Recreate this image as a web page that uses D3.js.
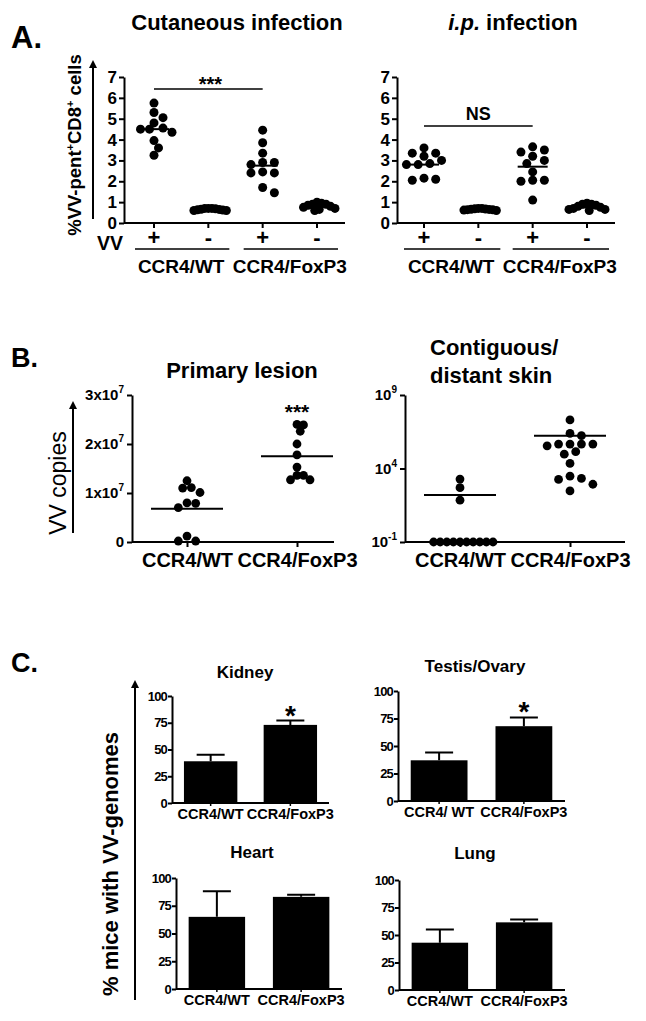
<!DOCTYPE html>
<html>
<head>
<meta charset="utf-8">
<script src="https://cdn.jsdelivr.net/npm/d3@7"></script>
<style>
  body { margin: 0; background: #fff; }
  text { font-family: "Liberation Sans", Arial, sans-serif; font-weight: bold; fill: #000; }
</style>
</head>
<body>
<svg id="fig" width="646" height="1021"></svg>
<script>
// ---- data ----
// panel A: % VV-pentamer+ CD8+ cells, columns = VV+/VV- for each mouse line
var aCats = ["WT+", "WT-", "Fox+", "Fox-"];
var aSigns = ["+", "-", "+", "-"];
var groups = ["CCR4/WT", "CCR4/FoxP3"];

var cutWTvv    = [5.75, 5.3, 5.05, 4.8, 4.5, 4.5, 4.55, 4.35, 3.95, 3.6, 3.25];
var cutWTnaive = [0.7, 0.68, 0.65, 0.62, 0.7, 0.6, 0.66, 0.63, 0.7, 0.6];
var cutFoxVV   = [4.45, 3.85, 3.35, 2.9, 2.9, 2.8, 2.45, 2.4, 2.4, 1.7, 1.45];
var cutFoxNaive= [1.0, 0.95, 0.9, 0.9, 0.85, 0.8, 0.75, 0.7, 0.65, 0.6];
var cutMeans   = [4.5, 0.65, 2.75, 0.8];

var ipWTvv     = [3.6, 3.35, 3.35, 3.2, 3.0, 2.85, 2.8, 2.8, 2.15, 2.05, 2.1];
var ipWTnaive  = [0.7, 0.65, 0.68, 0.62, 0.66, 0.6, 0.7, 0.64, 0.63, 0.67];
var ipFoxVV    = [3.65, 3.5, 3.4, 3.2, 3.0, 2.85, 2.45, 2.05, 2.05, 2.0, 1.1];
var ipFoxNaive = [0.95, 0.9, 0.9, 0.85, 0.8, 0.75, 0.7, 0.65, 0.65, 0.6];
var ipMeans    = [2.8, 0.65, 2.7, 0.75];

var aTicks = [0, 1, 2, 3, 4, 5, 6, 7];

// panel B: VV copies
var priWT  = [1.25e7, 1.11e7, 1.1e7, 1.01e7, 0.79e7, 0.8e7, 0.7e7, 0.12e7, 0.02e7, 0.02e7];
var priFox = [2.39e7, 2.4e7, 2.26e7, 2.0e7, 1.78e7, 1.53e7, 1.36e7, 1.36e7, 1.27e7, 1.27e7];
var priMeans = [0.68e7, 1.75e7];
var priTicks = [0, 1e7, 2e7, 3e7];

var skinWT  = [1900, 500, 70, 0.1, 0.1, 0.1, 0.1, 0.1, 0.1, 0.1, 0.1, 0.1, 0.1];
var skinFox = [2e7, 1.7e6, 2.45e6, 4.6e5, 4.6e5, 4.6e5, 4.6e5, 3.5e5, 1.4e5, 9.5e4, 2.2e4, 3000, 2100, 1800, 850, 300];
var skinMeans = [160, 1.7e6];
var skinTicks = [0.1, 1e4, 1e9];

// panel C: % mice with VV genomes (mean, SEM)
var organs = ["Kidney", "Testis/Ovary", "Heart", "Lung"];
var organMeans = [[39, 73], [37, 68], [65, 83], [43, 61.5]];
var organSem   = [[6, 4], [7, 8], [23, 2], [12, 2.5]];
var organStars = [["", "*"], ["", "*"], ["", ""], ["", ""]];
var organLabels = [["CCR4/WT", "CCR4/FoxP3"], ["CCR4/ WT", "CCR4/FoxP3"], ["CCR4/WT", "CCR4/FoxP3"], ["CCR4/WT", "CCR4/FoxP3"]];
var cTicks = [0, 25, 50, 75, 100];

var svg = d3.select("#fig");

svg.append("defs").append("marker")
  .attr("id", "arrow").attr("viewBox", "0 0 10 10")
  .attr("refX", 5).attr("refY", 5)
  .attr("markerWidth", 4).attr("markerHeight", 4)
  .attr("orient", "auto-start-reverse")
  .append("path").attr("d", "M0,0 L10,5 L0,10 z").attr("fill", "#000");

function styleAxis(g, fs) {
  g.select(".domain").attr("stroke-width", 2);
  g.selectAll(".tick line").attr("stroke-width", 2);
  g.selectAll(".tick text").attr("font-size", fs).attr("font-family", null);
}

// simple column scatter layout, like prism's
function swarm(vals, y, r, maxHalf) {
  var pts = vals.map(function(v) { return {v: v, py: y(v), dx: 0}; });
  var order = pts.slice().sort(function(a, b) { return a.py - b.py; });
  var placed = [], step = r * 1.3, minD = r * 1.85;
  order.forEach(function(p) {
    for (var k = 0; k < 40; k++) {
      var off = (k % 2 ? 1 : -1) * Math.ceil(k / 2) * step;
      var ok = placed.every(function(q) {
        var dx = off - q.dx, dy = p.py - q.py;
        return dx * dx + dy * dy >= minD * minD;
      });
      if (ok) { p.dx = off; break; }
    }
    placed.push(p);
  });
  var m = d3.max(pts, function(p) { return Math.abs(p.dx); });
  if (m > maxHalf) pts.forEach(function(p) { p.dx *= maxHalf / m; });
  return pts;
}

function drawDots(g, x, y, cats, series, means, r, maxHalf, halfLine) {
  series.forEach(function(vals, i) {
    var cx = x(cats[i]);
    g.append("g").selectAll("circle")
      .data(swarm(vals, y, r, maxHalf))
      .join("circle")
      .attr("cx", function(d) { return cx + d.dx; })
      .attr("cy", function(d) { return d.py; })
      .attr("r", r)
      .attr("fill", "#000");
    g.append("line")
      .attr("x1", cx - halfLine).attr("x2", cx + halfLine)
      .attr("y1", y(means[i])).attr("y2", y(means[i]))
      .attr("stroke", "#000").attr("stroke-width", 2);
  });
}

// ---------- panel A ----------
function panelA(cfg) {
  var g = svg.append("g");
  var y = d3.scaleLinear().domain([0, 7]).range([223, 77]);
  var x = d3.scalePoint().domain(aCats).range([cfg.c0, cfg.c1]);

  g.append("g").attr("transform", "translate(" + cfg.ax + ",0)")
    .call(d3.axisLeft(y).tickValues(aTicks).tickFormat(d3.format("d")).tickSize(5).tickSizeOuter(0).tickPadding(2))
    .call(styleAxis, 17);

  g.append("line").attr("x1", cfg.ax).attr("x2", cfg.axEnd)
    .attr("y1", y(0)).attr("y2", y(0)).attr("stroke", "#000").attr("stroke-width", 2);
  g.selectAll(".ctick").data(aCats).join("line")
    .attr("x1", function(d) { return x(d); }).attr("x2", function(d) { return x(d); })
    .attr("y1", y(0)).attr("y2", y(0) + 5).attr("stroke", "#000").attr("stroke-width", 2);

  g.selectAll(".sign").data(aCats).join("text")
    .attr("x", function(d) { return x(d); }).attr("y", 245)
    .attr("text-anchor", "middle").attr("font-size", 22)
    .text(function(d, i) { return aSigns[i]; });

  groups.forEach(function(gr, i) {
    var a = x(aCats[i * 2]), b = x(aCats[i * 2 + 1]);
    g.append("line").attr("x1", a - cfg.gl).attr("x2", b + cfg.gr)
      .attr("y1", 249).attr("y2", 249).attr("stroke", "#000").attr("stroke-width", 1.5);
    g.append("text").attr("x", (a + b) / 2).attr("y", 273)
      .attr("text-anchor", "middle").attr("font-size", 19).text(gr);
  });

  drawDots(g, x, y, aCats, cfg.series, cfg.means, 4.5, 18, 15);

  // comparison bar
  g.append("line").attr("x1", x(aCats[0])).attr("x2", x(aCats[2]))
    .attr("y1", cfg.barY).attr("y2", cfg.barY).attr("stroke", "#000").attr("stroke-width", 1.5);
  g.append("text").attr("x", (x(aCats[0]) + x(aCats[2])) / 2 + cfg.sigDx).attr("y", cfg.barY + cfg.sigDy)
    .attr("text-anchor", "middle").attr("font-size", cfg.sigFs).text(cfg.sig);

  var t = g.append("text").attr("x", cfg.tx).attr("y", 30)
    .attr("text-anchor", "middle").attr("font-size", 22);
  cfg.title.forEach(function(p) {
    t.append("tspan").attr("font-style", p[1] ? "italic" : null).text(p[0]);
  });
}

panelA({
  ax: 124, axEnd: 345, c0: 154, c1: 317, gl: 19, gr: 21,
  series: [cutWTvv, cutWTnaive, cutFoxVV, cutFoxNaive], means: cutMeans,
  barY: 89, sig: "***", sigFs: 20, sigDx: 2, sigDy: 2,
  tx: 237, title: [["Cutaneous infection", false]]
});
panelA({
  ax: 397, axEnd: 615, c0: 424, c1: 587, gl: 20, gr: 22,
  series: [ipWTvv, ipWTnaive, ipFoxVV, ipFoxNaive], means: ipMeans,
  barY: 126, sig: "NS", sigFs: 18, sigDx: 0, sigDy: -6,
  tx: 513, title: [["i.p.", true], [" infection", false]]
});

// A labels
svg.append("text").attr("x", 11).attr("y", 48).attr("font-size", 31).text("A.");
svg.append("text").attr("x", 97).attr("y", 250).attr("font-size", 19.5).text("VV");
var aLab = svg.append("text").attr("transform", "translate(81,145) rotate(-90)")
  .attr("text-anchor", "middle").attr("font-size", 18.5);
aLab.append("tspan").text("%VV-pent");
aLab.append("tspan").attr("font-size", 11).attr("dy", -7).text("+");
aLab.append("tspan").attr("dy", 7).text("CD8");
aLab.append("tspan").attr("font-size", 11).attr("dy", -7).text("+");
aLab.append("tspan").attr("dy", 7).text(" cells");
svg.append("line").attr("x1", 93).attr("x2", 93).attr("y1", 219).attr("y2", 64)
  .attr("stroke", "#000").attr("stroke-width", 2).attr("marker-end", "url(#arrow)");

// ---------- panel B ----------
function supLabels(g, fn) {
  g.selectAll(".tick text").each(function(d) {
    var t = d3.select(this), parts = fn(d);
    t.text(null);
    t.append("tspan").text(parts[0]);
    if (parts[1]) t.append("tspan").attr("font-size", 10).attr("dy", -7).text(parts[1]);
  });
}

function panelB(cfg) {
  var g = svg.append("g");
  var x = d3.scalePoint().domain(groups).range([cfg.c0, cfg.c1]);
  g.append("g").attr("transform", "translate(" + cfg.ax + ",0)")
    .call(d3.axisLeft(cfg.y).tickValues(cfg.ticks).tickSize(5).tickSizeOuter(0).tickPadding(3))
    .call(styleAxis, 15)
    .call(supLabels, cfg.fmt);
  g.append("g").attr("transform", "translate(0," + cfg.y.range()[0] + ")")
    .call(d3.axisBottom(x).tickSize(5).tickSizeOuter(0).tickPadding(6))
    .call(styleAxis, 20)
    .call(function(a) {
      a.select(".domain").attr("d", "M" + cfg.ax + ",0H" + cfg.axEnd);
    });
  drawDots(g, x, cfg.y, groups, cfg.series, cfg.means, 4.4, cfg.maxHalf, 36);
  if (cfg.star) {
    g.append("text").attr("x", x(groups[1])).attr("y", 419)
      .attr("text-anchor", "middle").attr("font-size", 21).text(cfg.star);
  }
}

panelB({
  ax: 132, axEnd: 334, c0: 187, c1: 297,
  y: d3.scaleLinear().domain([0, 3e7]).range([542, 395]),
  ticks: priTicks,
  fmt: function(d) { return d === 0 ? ["0"] : [(d / 1e7) + "x10", "7"]; },
  series: [priWT, priFox], means: priMeans, maxHalf: 13, star: "***"
});
panelB({
  ax: 405, axEnd: 625, c0: 460, c1: 570,
  y: d3.scaleLog().domain([0.1, 1e9]).range([542, 395]),
  ticks: skinTicks,
  fmt: function(d) { return ["10", String(Math.round(Math.log10(d)))]; },
  series: [skinWT, skinFox], means: skinMeans, maxHalf: 33, star: ""
});

svg.append("text").attr("x", 11).attr("y", 367).attr("font-size", 27).text("B.");
svg.append("text").attr("x", 242).attr("y", 378).attr("text-anchor", "middle")
  .attr("font-size", 22).text("Primary lesion");
svg.append("text").attr("x", 430).attr("y", 355).attr("font-size", 22).text("Contiguous/");
svg.append("text").attr("x", 430).attr("y", 383).attr("font-size", 22).text("distant skin");
svg.append("text").attr("transform", "translate(66,483) rotate(-90)")
  .attr("text-anchor", "middle").attr("font-size", 23).style("font-weight", "normal").text("VV copies");
svg.append("line").attr("x1", 73).attr("x2", 73).attr("y1", 533).attr("y2", 405)
  .attr("stroke", "#000").attr("stroke-width", 2).attr("marker-end", "url(#arrow)");

// ---------- panel C ----------
var cLayout = [
  {ax: 172, axEnd: 329, y0: 803, y1: 696, tx: 245, ty: 678},
  {ax: 398, axEnd: 565, y0: 801, y1: 691, tx: 475, ty: 672},
  {ax: 176, axEnd: 342, y0: 989, y1: 878, tx: 252, ty: 858},
  {ax: 399, axEnd: 565, y0: 990, y1: 880, tx: 475, ty: 859}
];

organs.forEach(function(name, k) {
  var L = cLayout[k];
  var g = svg.append("g");
  var y = d3.scaleLinear().domain([0, 100]).range([L.y0, L.y1]);
  var x = d3.scaleBand().domain(groups).range([L.ax, L.axEnd]).paddingInner(0.33).paddingOuter(0.15);

  g.append("g").attr("transform", "translate(" + L.ax + ",0)")
    .call(d3.axisLeft(y).tickValues(cTicks).tickSize(4).tickSizeOuter(0).tickPadding(1))
    .call(styleAxis, 13)
    .call(function(a) { a.selectAll(".tick text").attr("letter-spacing", -0.8); });

  var bars = groups.map(function(gr, i) {
    return {g: gr, v: organMeans[k][i], e: organSem[k][i], s: organStars[k][i], lab: organLabels[k][i]};
  });

  g.selectAll(".err").data(bars).join("path")
    .attr("d", function(d) {
      var cx = x(d.g) + x.bandwidth() / 2;
      return "M" + cx + "," + y(d.v) + "V" + y(d.v + d.e) + "M" + (cx - 14) + "," + y(d.v + d.e) + "H" + (cx + 14);
    })
    .attr("stroke", "#000").attr("stroke-width", 2).attr("fill", "none");

  g.selectAll("rect").data(bars).join("rect")
    .attr("x", function(d) { return x(d.g); })
    .attr("y", function(d) { return y(d.v); })
    .attr("width", x.bandwidth())
    .attr("height", function(d) { return y(0) - y(d.v); })
    .attr("fill", "#000");

  g.selectAll(".star").data(bars).join("text")
    .attr("x", function(d) { return x(d.g) + x.bandwidth() / 2; })
    .attr("y", function(d) { return y(d.v + d.e) + 4; })
    .attr("text-anchor", "middle").attr("font-size", 28)
    .text(function(d) { return d.s; });

  g.append("line").attr("x1", L.ax).attr("x2", L.axEnd).attr("y1", y(0)).attr("y2", y(0))
    .attr("stroke", "#000").attr("stroke-width", 2);
  g.selectAll(".ct").data(bars).join("line")
    .attr("x1", function(d) { return x(d.g) + x.bandwidth() / 2; })
    .attr("x2", function(d) { return x(d.g) + x.bandwidth() / 2; })
    .attr("y1", y(0)).attr("y2", y(0) + 3).attr("stroke", "#000").attr("stroke-width", 1.5);

  g.selectAll(".lab").data(bars).join("text")
    .attr("x", function(d) { return x(d.g) + x.bandwidth() / 2; })
    .attr("y", y(0) + 16)
    .attr("text-anchor", "middle").attr("font-size", 14.5)
    .text(function(d) { return d.lab; });

  g.append("text").attr("x", L.tx).attr("y", L.ty).attr("text-anchor", "middle")
    .attr("font-size", 17).text(name);
});

svg.append("text").attr("x", 11).attr("y", 672).attr("font-size", 27).text("C.");
svg.append("text").attr("transform", "translate(118,864) rotate(-90)")
  .attr("text-anchor", "middle").attr("font-size", 22).text("% mice with VV-genomes");
svg.append("line").attr("x1", 135).attr("x2", 135).attr("y1", 1000).attr("y2", 684)
  .attr("stroke", "#000").attr("stroke-width", 2).attr("marker-end", "url(#arrow)");
</script>
</body>
</html>
